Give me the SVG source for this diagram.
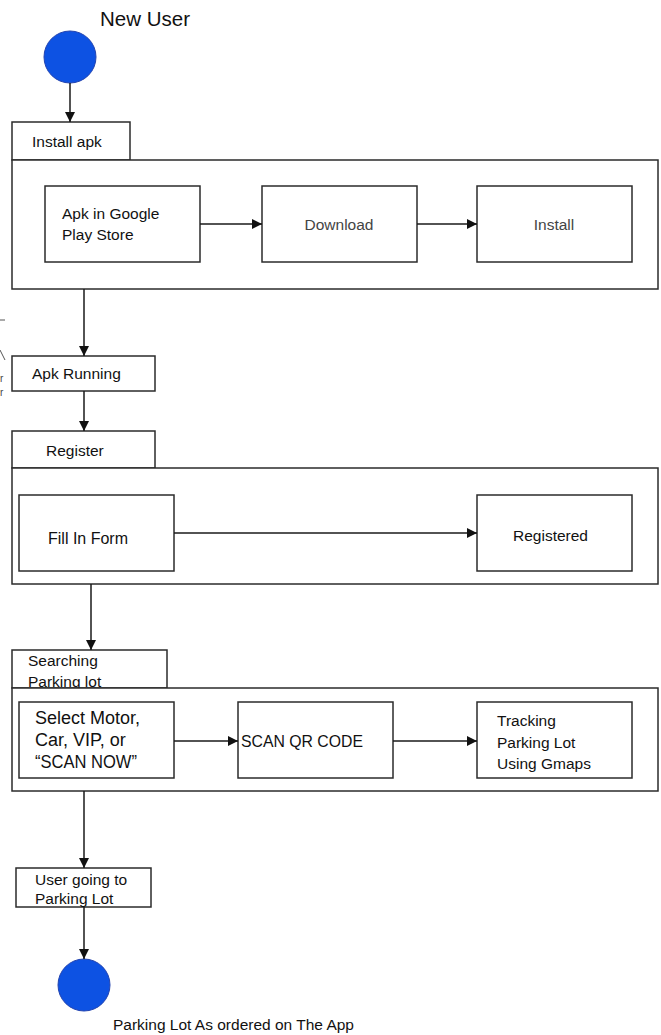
<svg xmlns="http://www.w3.org/2000/svg" width="661" height="1035" viewBox="0 0 661 1035">
<style>
.box{fill:#fff;stroke:#2b2b2b;stroke-width:1.5}
.t{font-family:"Liberation Sans",Arial,sans-serif;font-size:15.5px;fill:#111}
.g{font-family:"Liberation Sans",Arial,sans-serif;font-size:15.5px;fill:#444}
.c{stroke:#1a1a1a;stroke-width:1.5;fill:none;marker-end:url(#ah)}
.dot{fill:#0d52e3;stroke:#2344b0;stroke-width:1}
</style>
<defs>
<marker id="ah" viewBox="0 0 10 10" refX="10" refY="5" markerWidth="10" markerHeight="10" markerUnits="userSpaceOnUse" orient="auto">
<path d="M0,0 L10,5 L0,10 Z" fill="#111"/>
</marker>
</defs>
<rect width="661" height="1035" fill="#fff"/>

<g id="start">
<circle class="dot" cx="70" cy="57" r="26"/>
<text x="100" y="26" style="font-family:'Liberation Sans',Arial,sans-serif;font-size:20.5px;fill:#111">New User</text>
</g>

<g id="install-apk">
<rect class="box" x="12" y="122" width="118" height="38"/>
<text class="t" x="32" y="147">Install apk</text>
<rect class="box" x="12" y="160" width="646" height="129"/>
</g>
<g id="apk-store">
<rect class="box" x="45" y="186" width="155" height="76"/>
<text class="t" x="62" y="219">Apk in Google</text>
<text class="t" x="62" y="240">Play Store</text>
</g>
<g id="download">
<rect class="box" x="262" y="186" width="155" height="76"/>
<text class="g" x="339" y="230" text-anchor="middle">Download</text>
</g>
<g id="install">
<rect class="box" x="477" y="186" width="155" height="76"/>
<text class="g" x="554" y="230" text-anchor="middle">Install</text>
</g>

<g id="apk-running">
<rect class="box" x="12" y="356" width="143" height="35"/>
<text class="t" x="32" y="379">Apk Running</text>
</g>

<g id="register">
<rect class="box" x="12" y="431" width="143" height="37"/>
<text class="t" x="46" y="456">Register</text>
<rect class="box" x="12" y="468" width="646" height="116"/>
</g>
<g id="fill-form">
<rect class="box" x="19" y="495" width="155" height="76"/>
<text class="t" x="48" y="544" style="font-size:16px">Fill In Form</text>
</g>
<g id="registered">
<rect class="box" x="477" y="495" width="155" height="76"/>
<text class="t" x="513" y="541">Registered</text>
</g>

<g id="searching">
<rect class="box" x="12" y="650" width="155" height="38"/>
<text class="t" x="28" y="666">Searching</text>
<text class="t" x="28" y="687">Parking lot</text>
<rect class="box" x="12" y="688" width="646" height="103"/>
</g>
<g id="select">
<rect class="box" x="19" y="702" width="155" height="76"/>
<text class="t" x="35" y="724" style="font-size:18px">Select Motor,</text>
<text class="t" x="35" y="746" style="font-size:18px">Car, VIP, or</text>
<text class="t" x="35" y="768" style="font-size:18px" textLength="102" lengthAdjust="spacingAndGlyphs">“SCAN NOW”</text>
</g>
<g id="scan-qr">
<rect class="box" x="238" y="702" width="155" height="76"/>
<text class="t" x="241" y="747" style="font-size:16.5px" textLength="122" lengthAdjust="spacingAndGlyphs">SCAN QR CODE</text>
</g>
<g id="tracking">
<rect class="box" x="477" y="702" width="155" height="76"/>
<text class="t" x="497" y="726">Tracking</text>
<text class="t" x="497" y="748">Parking Lot</text>
<text class="t" x="497" y="769">Using Gmaps</text>
</g>

<g id="user-going">
<rect class="box" x="16" y="868" width="135" height="39"/>
<text class="t" x="35" y="885">User going to</text>
<text class="t" x="35" y="904">Parking Lot</text>
</g>

<g id="end">
<circle class="dot" cx="84" cy="985" r="26"/>
<text x="113" y="1030" style="font-family:'Liberation Sans',Arial,sans-serif;font-size:15.5px;fill:#111">Parking Lot As ordered on The App</text>
</g>

<g id="stray" fill="none" stroke="#555" stroke-width="1">
<line x1="0" y1="320" x2="5" y2="320"/>
<line x1="0" y1="350" x2="5" y2="360"/>
<text x="0" y="382" style="font-family:'Liberation Sans',Arial,sans-serif;font-size:10px;fill:#444;stroke:none">r</text>
<text x="0" y="396" style="font-family:'Liberation Sans',Arial,sans-serif;font-size:10px;fill:#444;stroke:none">r</text>
</g>

<g id="connectors">
<line class="c" x1="70" y1="83" x2="70" y2="122"/>
<line class="c" x1="200" y1="224" x2="262" y2="224"/>
<line class="c" x1="417" y1="224" x2="477" y2="224"/>
<line class="c" x1="84" y1="289" x2="84" y2="356"/>
<line class="c" x1="84" y1="391" x2="84" y2="431"/>
<line class="c" x1="174" y1="533" x2="477" y2="533"/>
<line class="c" x1="91" y1="584" x2="91" y2="650"/>
<line class="c" x1="174" y1="741" x2="238" y2="741"/>
<line class="c" x1="393" y1="741" x2="477" y2="741"/>
<line class="c" x1="84" y1="791" x2="84" y2="868"/>
<line class="c" x1="84" y1="907" x2="84" y2="959"/>
</g>
</svg>
